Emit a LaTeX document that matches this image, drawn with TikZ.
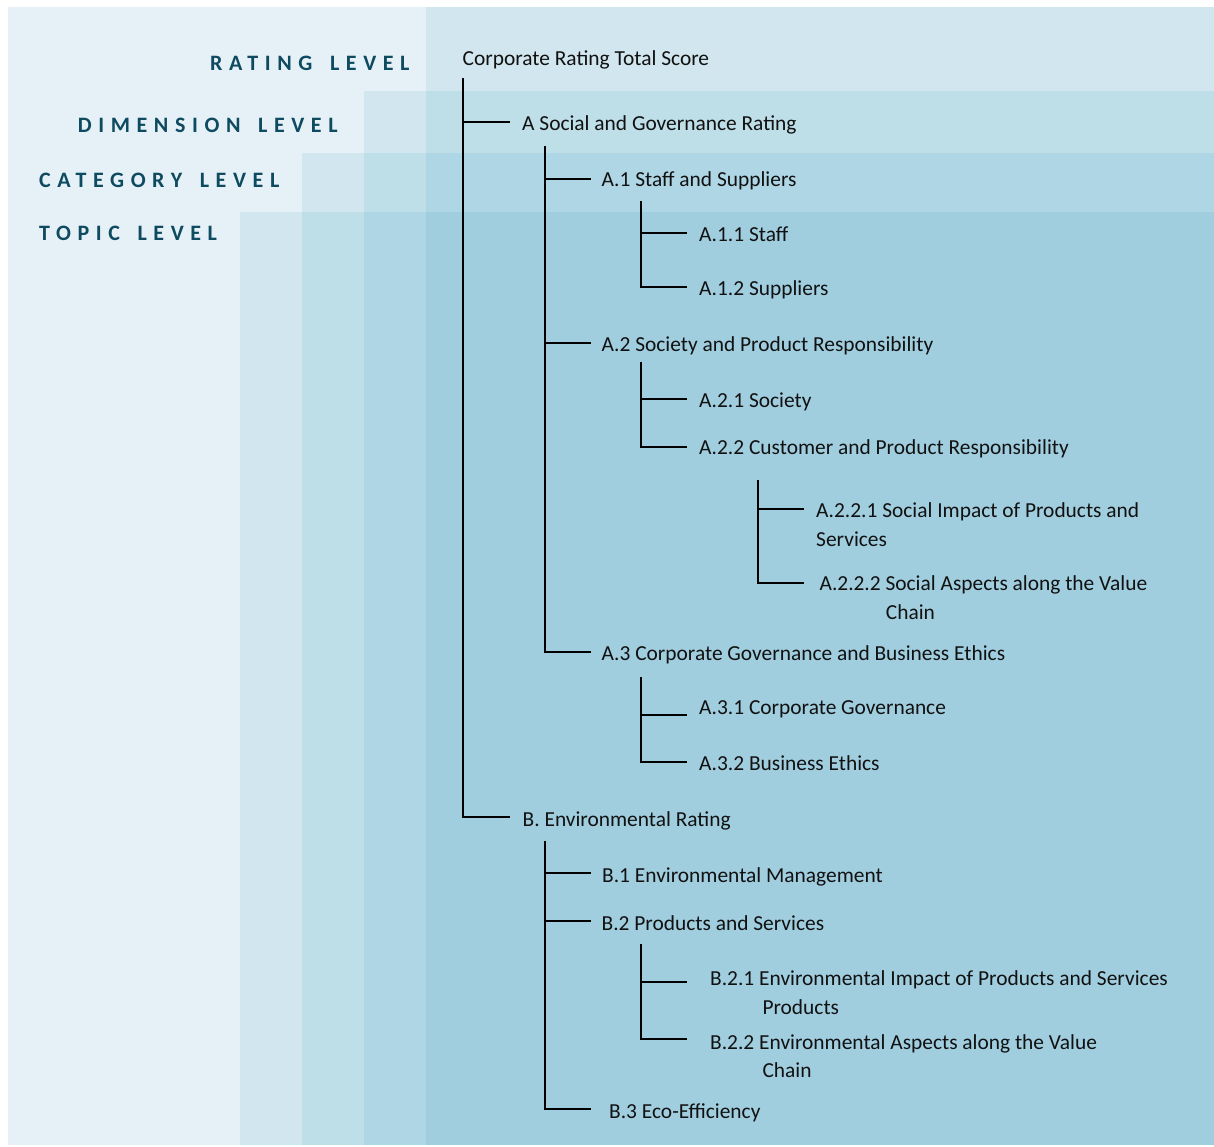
\documentclass[tikz,border=0pt]{standalone}
\usepackage{fontspec}
\setmainfont{Carlito}
\newfontfamily\lvlfont[LetterSpace=30]{Carlito}
\definecolor{bgz}{HTML}{E6F1F7}
\definecolor{bga}{HTML}{D1E6EF}
\definecolor{bgb}{HTML}{BEDEE8}
\definecolor{bgc}{HTML}{AFD6E4}
\definecolor{bgd}{HTML}{A0CEDF}
\definecolor{lvlc}{HTML}{0E4A60}
\definecolor{txt}{HTML}{111111}
\newcommand{\wsp}{\hspace{6pt} }
\begin{document}
\begin{tikzpicture}[x=1pt,y=-1pt,
  tree/.style={line width=2pt,black},
  item/.style={anchor=base west,inner sep=0pt,font=\fontsize{21.4}{28.5}\selectfont,text=txt},
  lvl/.style={anchor=base west,inner sep=0pt,font=\lvlfont\bfseries\fontsize{22}{26}\selectfont,text=lvlc}]
\useasboundingbox (0,0) rectangle (1214,1146);
\fill[white] (0,0) rectangle (1214,1146);
\fill[bgz] (8,7) rectangle (1214,1145);
% level 1
\fill[bga] (240,212) rectangle (1214,1145);
\fill[bga] (302,153) rectangle (1214,1145);
\fill[bga] (364,91) rectangle (1214,1145);
\fill[bga] (426,7) rectangle (1214,1145);
% level 2
\fill[bgb] (302,212) rectangle (1214,1145);
\fill[bgb] (364,153) rectangle (1214,1145);
\fill[bgb] (426,91) rectangle (1214,1145);
% level 3
\fill[bgc] (364,212) rectangle (1214,1145);
\fill[bgc] (426,153) rectangle (1214,1145);
% level 4
\fill[bgd] (426,212) rectangle (1214,1145);

% level labels
\node[lvl] (lrating) at (210,70) {RATING\wsp LEVEL};
\node[lvl] (ldim) at (77.7,132.7) {DIMENSION\wsp LEVEL};
\node[lvl] (lcat) at (39,187.7) {CATEGORY\wsp LEVEL};
\node[lvl] (ltop) at (39,240.7) {TOPIC\wsp LEVEL};

% tree nodes
\node[item] (root) at (462.5,65) {Corporate Rating Total Score};
\node[item] (A) at (522,130) {A Social and Governance Rating};
\node[item] (A1) at (601.5,186) {A.1 Staff and Suppliers};
\node[item] (A11) at (699,241) {A.1.1 Staff};
\node[item] (A12) at (699,295) {A.1.2 Suppliers};
\node[item] (A2) at (601.5,351.7) {A.2 Society and Product Responsibility};
\node[item] (A21) at (699,407.3) {A.2.1 Society};
\node[item] (A22) at (699,454) {A.2.2 Customer and Product Responsibility};
\node[item] (A221) at (816,517.7) {\begin{tabular}[t]{@{}l@{}}A.2.2.1 Social Impact of Products and\\Services\end{tabular}};
\node[item] (A222) at (819.3,590.7) {\begin{tabular}[t]{@{}l@{}}A.2.2.2 Social Aspects along the Value\\\hspace*{66.4pt}Chain\end{tabular}};
\node[item] (A3) at (601.5,660.7) {A.3 Corporate Governance and Business Ethics};
\node[item] (A31) at (699,714) {A.3.1 Corporate Governance};
\node[item] (A32) at (699,770) {A.3.2 Business Ethics};
\node[item] (B) at (522.5,826) {B. Environmental Rating};
\node[item] (B1) at (602,882.3) {B.1 Environmental Management};
\node[item] (B2) at (601.5,930) {B.2 Products and Services};
\node[item] (B21) at (710,985.7) {\begin{tabular}[t]{@{}l@{}}B.2.1 Environmental Impact of Products and Services\\\hspace*{52.3pt}Products\end{tabular}};
\node[item] (B22) at (710,1049) {\begin{tabular}[t]{@{}l@{}}B.2.2 Environmental Aspects along the Value\\\hspace*{52.3pt}Chain\end{tabular}};
\node[item] (B3) at (609,1118.3) {B.3 Eco-Efficiency};

% vertical starts
\coordinate (vroot) at (463.3,78);
\coordinate (vA) at (545,146);
\coordinate (vA1) at (641,201);
\coordinate (vA2) at (641,361.7);
\coordinate (vA22) at (758.3,480);
\coordinate (vA3) at (641,677);
\coordinate (vB) at (545,841);
\coordinate (vB2) at (641,944);

% connectors
\draw[tree] (vroot) |- ([xshift=-12pt,yshift=8pt]A.base west);
\draw[tree] (vroot) |- ([xshift=-12.5pt,yshift=9pt]B.base west);
\draw[tree] (vA) |- ([xshift=-10.5pt,yshift=7pt]A1.base west);
\draw[tree] (vA) |- ([xshift=-10.5pt,yshift=8.7pt]A2.base west);
\draw[tree] (vA) |- ([xshift=-10.5pt,yshift=8.7pt]A3.base west);
\draw[tree] (vA1) |- ([xshift=-12pt,yshift=8.5pt]A11.base west);
\draw[tree] (vA1) |- ([xshift=-12pt,yshift=8.3pt]A12.base west);
\draw[tree] (vA2) |- ([xshift=-12pt,yshift=8pt]A21.base west);
\draw[tree] (vA2) |- ([xshift=-12pt,yshift=7.3pt]A22.base west);
\draw[tree] (vA22) |- ([xshift=-12pt,yshift=8.4pt]A221.base west);
\draw[tree] (vA22) |- ([xshift=-15pt,yshift=8pt]A222.base west);
\draw[tree] (vA3) |- ([xshift=-12pt,yshift=-1pt]A31.base west);
\draw[tree] (vA3) |- ([xshift=-12pt,yshift=7.7pt]A32.base west);
\draw[tree] (vB) |- ([xshift=-11pt,yshift=9pt]B1.base west);
\draw[tree] (vB) |- ([xshift=-10.5pt,yshift=9.5pt]B2.base west);
\draw[tree] (vB) |- ([xshift=-18pt,yshift=9.3pt]B3.base west);
\draw[tree] (vB2) |- ([xshift=-23pt,yshift=3.7pt]B21.base west);
\draw[tree] (vB2) |- ([xshift=-23pt,yshift=9.7pt]B22.base west);
\end{tikzpicture}
\end{document}
